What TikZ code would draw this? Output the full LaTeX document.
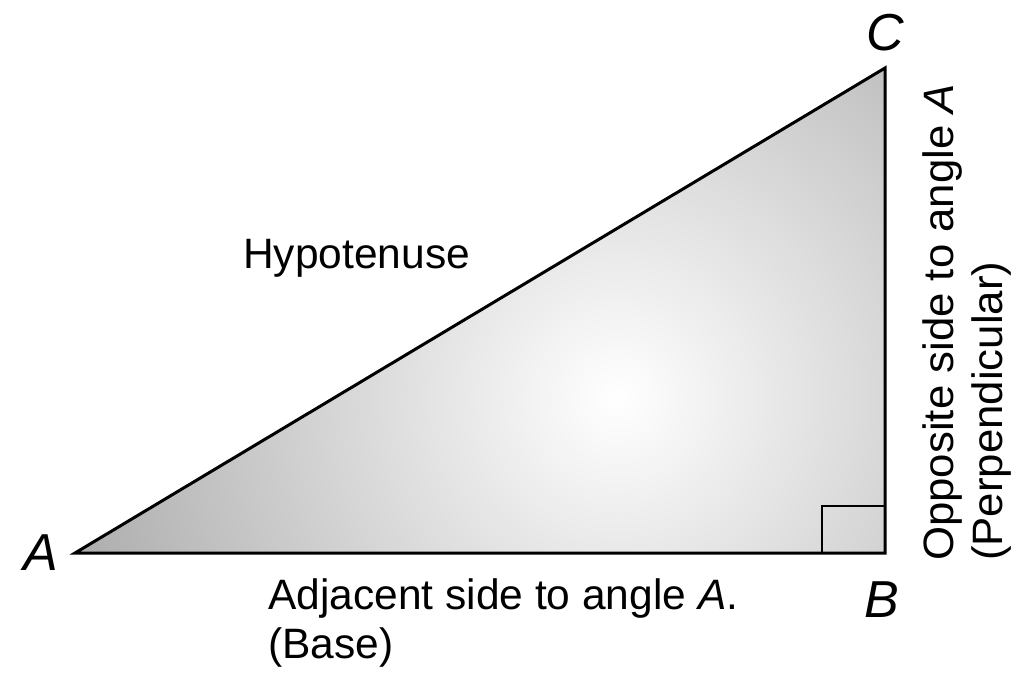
\documentclass[tikz,border=0pt]{standalone}
\usepackage{fontspec}
\setmainfont{Liberation Sans}
\begin{document}
\begin{tikzpicture}[x=1pt,y=-1pt,
  lbl/.style={font=\fontsize{42.5}{49}\selectfont, inner sep=0pt},
  vtx/.style={font=\fontsize{52}{60}\selectfont\itshape, inner sep=0pt},
  edge/.style={line width=3pt, line join=miter}]
\useasboundingbox (0,0) rectangle (1015,678);
\coordinate (A) at (75,553);
\coordinate (B) at (885,553);
\coordinate (C) at (885,68);
\begin{scope}
  \clip (A) -- (B) -- (C) -- cycle;
  \shade[inner color=white, outer color=black!32] (617,398) circle[radius=560];
\end{scope}
\draw[edge] (A) -- (B) -- (C) -- cycle;
\draw[line width=2.5pt] (822,553) -- (822,506) -- (885,506);
\node[vtx] (la) at (41,553) {A};
\node[vtx] (lb) at (882,600) {B};
\node[vtx] (lc) at (885,33) {C};
\node[lbl, anchor=west] (hyp) at (243,258) {Hypotenuse};
\node[lbl, anchor=north west, align=left] (adj) at (268,578) {Adjacent side to angle \textit{A}.\\(Base)};
\node[lbl, anchor=north west, align=left, rotate=90, xscale=1.03] (opp) at (922,561) {Opposite side to angle \textit{A}\\(Perpendicular)};
\end{tikzpicture}
\end{document}
